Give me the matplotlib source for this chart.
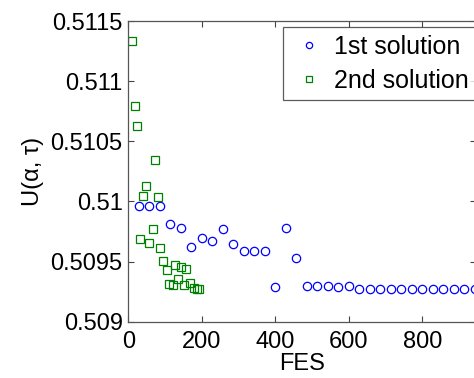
import matplotlib.pyplot as plt

plt.rcParams['font.family'] = ['Liberation Sans', 'DejaVu Sans']

# 1st solution (blue circles)
fes1 = [29, 57, 86, 114, 143, 171, 200, 229, 257, 286, 314, 343, 371, 400,
        429, 457, 486, 514, 543, 571, 600, 629, 657, 686, 714, 743, 771, 800,
        829, 857, 886, 914, 943]
u1 = [0.50996, 0.50996, 0.50996, 0.50981, 0.50978, 0.50962, 0.50970, 0.50967,
      0.50977, 0.509645, 0.50959, 0.50959, 0.50959, 0.50929, 0.509775, 0.50953,
      0.50930, 0.50930, 0.50930, 0.50929, 0.50930, 0.50927, 0.50927, 0.50927,
      0.50927, 0.50927, 0.50927, 0.50927, 0.50927, 0.50927, 0.50927, 0.50927,
      0.50927]

# 2nd solution (green squares)
fes2 = [9, 17, 25, 32, 40, 47, 55, 66, 73, 80, 87, 95, 104, 111, 122, 127,
        136, 144, 151, 158, 167, 178, 186, 191]
u2 = [0.51133, 0.51079, 0.510625, 0.509684, 0.510046, 0.510132, 0.509653,
      0.50977, 0.510345, 0.510038, 0.509615, 0.509507, 0.509429, 0.509316,
      0.509305, 0.509471, 0.509354, 0.509454, 0.509302, 0.509438, 0.509321,
      0.50928, 0.509276, 0.509274]

yticks = [0.509, 0.5095, 0.51, 0.5105, 0.511, 0.5115]
ytick_labels = ['0.509', '0.5095', '0.51', '0.5105', '0.511', '0.5115']
xticks = [0, 200, 400, 600, 800]

W, H = 474, 378
fs = 17
fig = plt.figure(figsize=(W / 100, H / 100), dpi=100)
ax = fig.add_axes([128.3 / W, 1 - 321.7 / H, (476 - 128.3) / W, (321.7 - 21) / H])

ax.plot(fes1, u1, 'o', mfc='none', mec='blue', ms=6, mew=0.9, label='1st solution')
ax.plot(fes2, u2, 's', mfc='none', mec='green', ms=6, mew=0.9, label='2nd solution')

ax.set_xlim(0, 946)
ax.set_ylim(0.509, 0.5115)
ax.set_xticks(xticks)
ax.set_yticks(yticks)
ax.set_yticklabels(ytick_labels)
ax.tick_params(direction='in', top=True, right=True, length=4, width=0.8,
               labelsize=fs, color='#444444')
ax.tick_params(axis='x', pad=7)
ax.tick_params(axis='y', pad=4)
for s in ax.spines.values():
    s.set_color('#555555')
    s.set_linewidth(0.9)

ax.set_xlabel('FES', fontsize=fs, labelpad=0)
ax.set_ylabel('U(α, τ)', fontsize=fs, labelpad=5)

# legend box runs past the right edge of the picture, as in the original crop
leg = ax.legend(loc='upper left',
                bbox_to_anchor=(283 / W, 1 - 27 / H, (482 - 283) / W, 0),
                bbox_transform=fig.transFigure, mode='expand', fontsize=18,
                frameon=True, fancybox=False, edgecolor='#333333',
                borderpad=0.3, handlelength=1.5, handletextpad=0.25,
                labelspacing=0.4, numpoints=1, markerscale=0.75,
                borderaxespad=0)
leg.get_frame().set_linewidth(0.9)

fig.savefig('out.png', dpi=100)
